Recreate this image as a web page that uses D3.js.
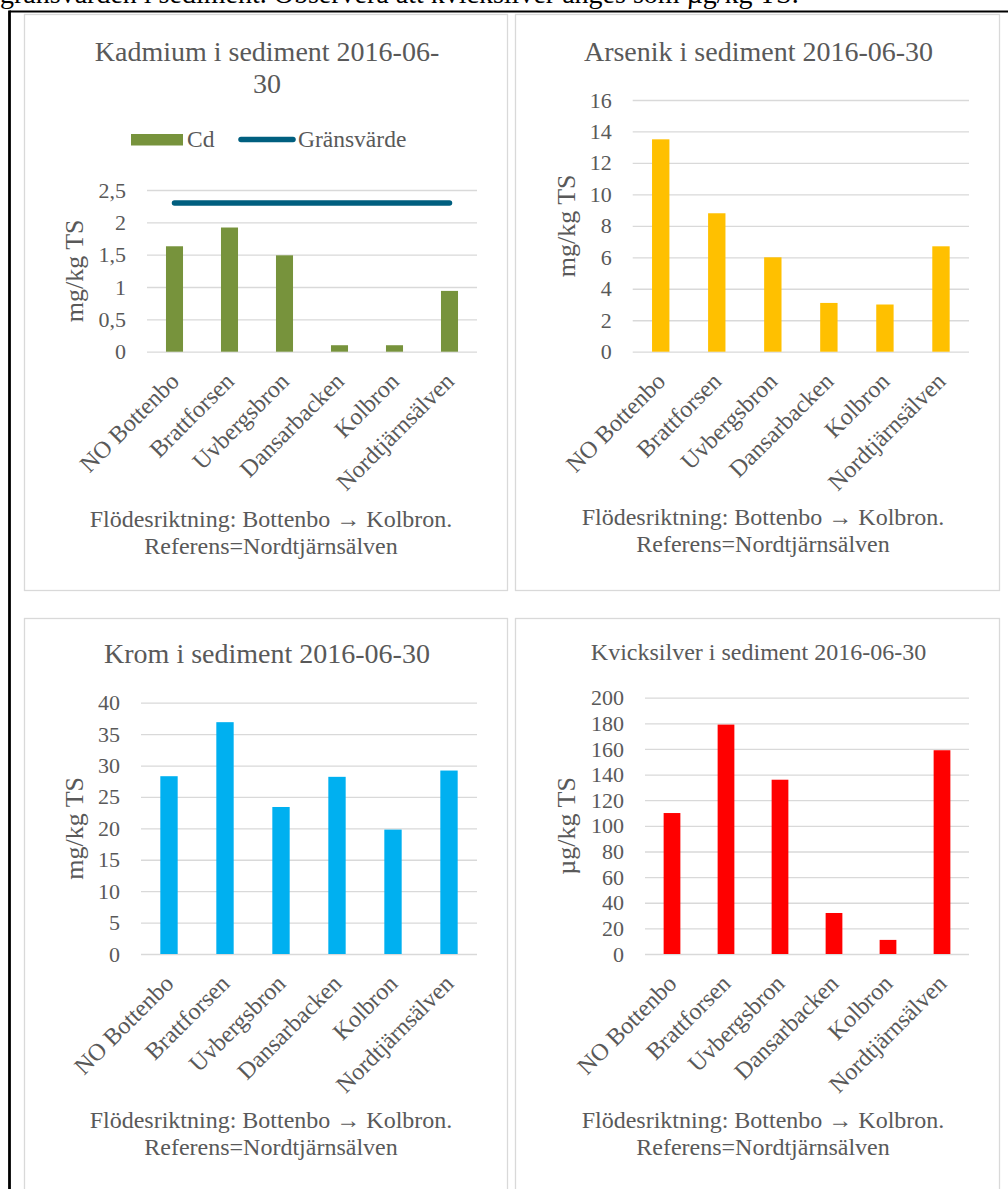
<!DOCTYPE html>
<html>
<head>
<meta charset="utf-8">
<script src="https://cdn.jsdelivr.net/npm/d3@7.9.0/dist/d3.min.js"></script>
<style>
    html, body { margin: 0; padding: 0; background: #fff; }
    svg { display: block; }
</style>
</head>
<body>
<svg id="chart" width="1008" height="1189"></svg>
<script>
// Data
const categories = ["NO Bottenbo", "Brattforsen", "Uvbergsbron", "Dansarbacken", "Kolbron", "Nordtjärnsälven"];
const cadmium = [1.63, 1.92, 1.49, 0.1, 0.1, 0.94];
const cadmiumLimit = [2.3, 2.3, 2.3, 2.3, 2.3, 2.3];
const arsenic = [13.5, 8.8, 6.0, 3.1, 3.0, 6.7];
const chromium = [28.3, 36.9, 23.4, 28.2, 19.8, 29.2];
const mercury = [110, 179, 136, 32, 11, 159];

const cdTicks = [0, 0.5, 1, 1.5, 2, 2.5];
const asTicks = [0, 2, 4, 6, 8, 10, 12, 14, 16];
const crTicks = [0, 5, 10, 15, 20, 25, 30, 35, 40];
const hgTicks = [0, 20, 40, 60, 80, 100, 120, 140, 160, 180, 200];

const caption = ["Flödesriktning: Bottenbo \u2192 Kolbron.", "Referens=Nordtjärnsälven"];
const serif = "'Liberation Serif', 'Times New Roman', serif";
const textColor = "#595959";
const gridColor = "#d9d9d9";

const svg = d3.select("#chart").attr("font-family", serif);

// text above the table (cut off by the page top, as in the original)
svg.append("text")
    .attr("x", 0)
    .attr("y", 2.5)
    .attr("font-family", serif)
    .attr("font-size", "28px")
    .attr("fill", "#000")
    .text("gränsvärden i sediment. Observera att kvicksilver anges som µg/kg TS.");

// black table border
svg.append("line").attr("x1", 9.5).attr("x2", 1008).attr("y1", 11.5).attr("y2", 11.5)
    .attr("stroke", "#000").attr("stroke-width", 2.2);
svg.append("line").attr("x1", 9.5).attr("x2", 9.5).attr("y1", 10.4).attr("y2", 1189)
    .attr("stroke", "#000").attr("stroke-width", 2.8);

const panels = [
    {
        box: [24.5, 14.5, 483, 576], plot: [147, 190, 330, 161.7],
        title: ["Kadmium i sediment 2016-06-", "30"], titleY: 60.5, titleSize: 28,
        values: cadmium, ticks: cdTicks, color: "#77933c", unit: "mg/kg TS",
        axisX: 83, capX: 271, capY: 526.5, limit: cadmiumLimit
    },
    {
        box: [515.5, 14.5, 484, 576], plot: [632.7, 100, 336.3, 251.7],
        title: ["Arsenik i sediment 2016-06-30"], titleY: 60.5, titleSize: 28,
        values: arsenic, ticks: asTicks, color: "#ffc000", unit: "mg/kg TS",
        axisX: 575, capX: 763, capY: 525
    },
    {
        box: [24.5, 618.5, 483, 600], plot: [141, 702.7, 336, 251.3],
        title: ["Krom i sediment 2016-06-30"], titleY: 663, titleSize: 28,
        values: chromium, ticks: crTicks, color: "#00b0f0", unit: "mg/kg TS",
        axisX: 83, capX: 271, capY: 1128
    },
    {
        box: [515.5, 618.5, 484, 600], plot: [645, 697.7, 324, 256.3],
        title: ["Kvicksilver i sediment 2016-06-30"], titleY: 660, titleSize: 24,
        values: mercury, ticks: hgTicks, color: "#ff0000", unit: "µg/kg TS",
        axisX: 575, capX: 763, capY: 1128
    }
];

const fmt = d => String(d).replace(".", ",");

panels.forEach(p => {
    const [bx, by, bw, bh] = p.box;
    const [px, py, pw, ph] = p.plot;

    svg.append("rect")
        .attr("x", bx).attr("y", by).attr("width", bw).attr("height", bh)
        .attr("fill", "#fff").attr("stroke", gridColor).attr("stroke-width", 1.3);

    // title
    const titleCx = bx + bw / 2 + 1;
    p.title.forEach((line, i) => {
        svg.append("text")
            .attr("x", titleCx)
            .attr("y", p.titleY + i * 32)
            .attr("text-anchor", "middle")
            .attr("font-family", serif)
            .attr("font-size", p.titleSize + "px")
            .attr("fill", textColor)
            .text(line);
    });

    const x = d3.scaleBand()
        .domain(categories)
        .range([px, px + pw])
        .paddingInner(0.69)
        .paddingOuter(0.345);

    const y = d3.scaleLinear()
        .domain([0, d3.max(p.ticks)])
        .range([py + ph, py]);

    // gridlines + y labels
    const yAxis = svg.append("g")
        .attr("transform", `translate(${px},0)`)
        .call(d3.axisLeft(y).tickValues(p.ticks).tickSize(-pw).tickPadding(21).tickFormat(fmt));
    yAxis.attr("font-family", serif);
    yAxis.select(".domain").remove();
    yAxis.selectAll(".tick line").attr("stroke", gridColor).attr("stroke-width", 1.3);
    yAxis.selectAll(".tick text")
        .attr("fill", textColor)
        .attr("font-size", "22px");

    // bars
    svg.append("g").selectAll("rect")
        .data(p.values)
        .join("rect")
        .attr("x", (d, i) => x(categories[i]))
        .attr("y", d => y(d))
        .attr("width", x.bandwidth())
        .attr("height", d => y(0) - y(d))
        .attr("fill", p.color);

    // limit line (Kadmium only)
    if (p.limit) {
        const line = d3.line()
            .x((d, i) => x(categories[i]) + x.bandwidth() / 2)
            .y(d => y(d));
        svg.append("path")
            .attr("d", line(p.limit))
            .attr("fill", "none")
            .attr("stroke", "#005f7f")
            .attr("stroke-width", 5.5)
            .attr("stroke-linecap", "round");

        // legend
        const lg = svg.append("g").attr("font-family", serif).attr("font-size", "23.5px").attr("fill", textColor);
        lg.append("rect").attr("x", 131).attr("y", 134).attr("width", 52).attr("height", 11.5).attr("fill", p.color);
        lg.append("text").attr("x", 187).attr("y", 147).text("Cd");
        lg.append("line").attr("x1", 241).attr("x2", 293).attr("y1", 139.5).attr("y2", 139.5)
            .attr("stroke", "#005f7f").attr("stroke-width", 5.5).attr("stroke-linecap", "round");
        lg.append("text").attr("x", 298).attr("y", 147).text("Gränsvärde");
    }

    // category labels
    const xAxis = svg.append("g")
        .attr("transform", `translate(0,${py + ph})`)
        .call(d3.axisBottom(x).tickSize(0).tickPadding(0));
    xAxis.attr("font-family", serif);
    xAxis.select(".domain").remove();
    xAxis.selectAll(".tick text")
        .attr("y", 0)
        .attr("dy", 0)
        .attr("text-anchor", "end")
        .attr("transform", "translate(6,31) rotate(-45)")
        .attr("fill", textColor)
        .attr("font-size", "24px");

    // axis title
    svg.append("text")
        .attr("transform", `translate(${p.axisX},${py + ph / 2}) rotate(-90)`)
        .attr("text-anchor", "middle")
        .attr("font-family", serif)
        .attr("font-size", "26px")
        .attr("fill", textColor)
        .text(p.unit);

    // caption
    caption.forEach((line, i) => {
        svg.append("text")
            .attr("x", p.capX)
            .attr("y", p.capY + i * 27)
            .attr("text-anchor", "middle")
            .attr("font-family", serif)
            .attr("font-size", "24px")
            .attr("fill", textColor)
            .text(line);
    });
});
</script>
</body>
</html>
